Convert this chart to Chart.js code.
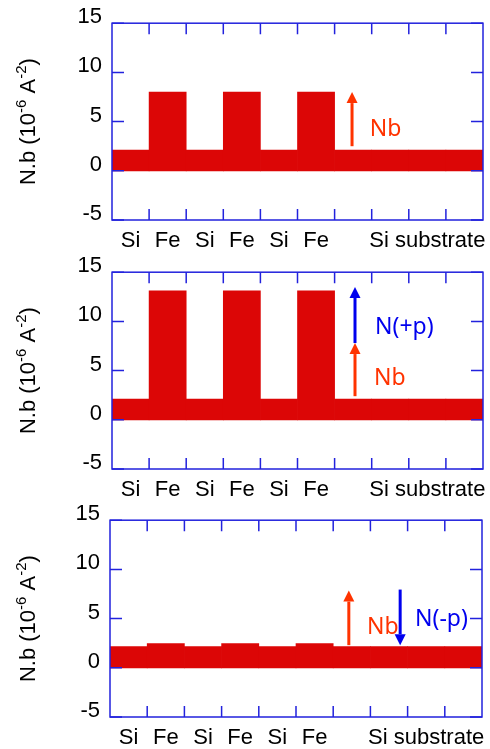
<!DOCTYPE html>
<html><head><meta charset="utf-8">
<script src="https://cdn.jsdelivr.net/npm/chart.js@4.4.1/dist/chart.umd.min.js"></script>
<style>
html,body{margin:0;padding:0;background:#fff;width:490px;height:749px;overflow:hidden;}
.p{position:absolute;left:0;width:490px;height:249px;}
canvas{display:block;}
</style>
</head><body>
<div class="p" style="top:0px"><canvas id="c0" width="490" height="249"></canvas></div>
<div class="p" style="top:249px"><canvas id="c1" width="490" height="249"></canvas></div>
<div class="p" style="top:497px"><canvas id="c2" width="490" height="252"></canvas></div>
<script>
// ---- data ----
const categories = ['Si','Fe','Si','Fe','Si','Fe','sub','sub','sub','sub'];
const tickLabels = ['Si','Fe','Si','Fe','Si','Fe','','','Si substrate',''];
const nbValues     = [2.1, 8.0, 2.1, 8.0, 2.1, 8.0, 2.1, 2.1, 2.1, 2.1];
const plusPValues  = [2.1, 13.1, 2.1, 13.1, 2.1, 13.1, 2.1, 2.1, 2.1, 2.1];
const minusPValues = [2.15, 2.45, 2.15, 2.45, 2.15, 2.45, 2.15, 2.15, 2.15, 2.15];
const yTicks = [-5, 0, 5, 10, 15];
const yTitleParts = [['N.b (10', false], ['-6', true], [' A', false], ['-2', true], [')', false]];

// annotation arrows: x in category index units, y in data units
const arrows1 = [{x: 5.97, from: 2.5, to: 8.0, color: '#ff3300'}];
const arrows2 = [{x: 6.05, from: 2.4, to: 7.8, color: '#ff3300'}, {x: 6.05, from: 7.8, to: 13.5, color: '#0000ee'}];
const arrows3 = [{x: 5.92, from: 2.3, to: 7.85, color: '#ff3300'}, {x: 7.3, from: 7.95, to: 2.3, color: '#0000ee'}];
const notes1 = [{x: 6.45, y: 4.2, text: 'Nb', color: '#ff3300'}];
const notes2 = [{x: 6.59, y: 9.4, text: 'N(+p)', color: '#0000ee'}, {x: 6.56, y: 4.25, text: 'Nb', color: '#ff3300'}];
const notes3 = [{x: 6.41, y: 4.05, text: 'Nb', color: '#ff3300'}, {x: 7.7, y: 4.95, text: 'N(-p)', color: '#0000ee'}];

const BLUE = '#2222dd';
const RED = '#dc0606';
const FONT = 'Liberation Sans, Arial, sans-serif';

const framePlugin = {
  id: 'frame',
  afterDatasetsDraw(chart, args, opts) {
    const ctx = chart.ctx, a = chart.chartArea;
    const xs = chart.scales.x, ys = chart.scales.y;
    ctx.save();
    ctx.strokeStyle = BLUE;
    ctx.lineWidth = 1.5;
    ctx.strokeRect(a.left, a.top, a.right - a.left, a.bottom - a.top);
    ctx.beginPath();
    yTicks.forEach(v => {
      const py = ys.getPixelForValue(v);
      ctx.moveTo(a.left, py); ctx.lineTo(a.left + 12, py);
      ctx.moveTo(a.right, py); ctx.lineTo(a.right - 12, py);
    });
    for (let i = 1; i < categories.length; i++) {
      const px = xs.getPixelForValue(i - 0.5);
      ctx.moveTo(px, a.top); ctx.lineTo(px, a.top + 11);
      ctx.moveTo(px, a.bottom); ctx.lineTo(px, a.bottom - 11);
    }
    ctx.stroke();

    // annotations
    (opts.arrows || []).forEach(ar => {
      const px = xs.getPixelForValue(ar.x);
      const y0 = ys.getPixelForValue(ar.from), y1 = ys.getPixelForValue(ar.to);
      const dir = y1 < y0 ? -1 : 1;
      const head = 11;
      ctx.strokeStyle = ar.color; ctx.fillStyle = ar.color; ctx.lineWidth = 3;
      ctx.beginPath(); ctx.moveTo(px, y0); ctx.lineTo(px, y1 - dir * head); ctx.stroke();
      ctx.beginPath(); ctx.moveTo(px, y1); ctx.lineTo(px - 5.5, y1 - dir * head); ctx.lineTo(px + 5.5, y1 - dir * head); ctx.closePath(); ctx.fill();
    });
    (opts.notes || []).forEach(n => {
      ctx.fillStyle = n.color;
      ctx.font = '23px "Noto Sans", "Open Sans", sans-serif';
      ctx.textAlign = 'left'; ctx.textBaseline = 'middle';
      ctx.fillText(n.text, xs.getPixelForValue(n.x), ys.getPixelForValue(n.y));
    });

    // y title with superscripts
    const cy = (a.top + a.bottom) / 2;
    ctx.fillStyle = '#000';
    ctx.translate(29, cy);
    ctx.rotate(-Math.PI / 2);
    const big = '22px ' + FONT, small = '15px ' + FONT;
    let total = 0;
    yTitleParts.forEach(([t, sup]) => { ctx.font = sup ? small : big; total += ctx.measureText(t).width; });
    let xx = -total / 2;
    ctx.textAlign = 'left'; ctx.textBaseline = 'middle';
    yTitleParts.forEach(([t, sup]) => {
      ctx.font = sup ? small : big;
      ctx.fillText(t, xx, sup ? -7 : 0);
      xx += ctx.measureText(t).width;
    });
    ctx.restore();
  }
};

function makeChart(id, values, arrows, notes, leftW, rightPad, xH) {
  return new Chart(document.getElementById(id), {
    type: 'bar',
    data: {
      labels: tickLabels,
      datasets: [{ data: values, backgroundColor: RED, borderWidth: 0, barPercentage: 1.0, categoryPercentage: 1.0 }]
    },
    options: {
      responsive: false, animation: false, devicePixelRatio: 1,
      layout: { padding: { left: 0, right: rightPad, top: 19, bottom: 0 } },
      plugins: { legend: { display: false }, tooltip: { enabled: false }, frame: { arrows, notes } },
      scales: {
        x: {
          offset: true,
          grid: { display: false, drawTicks: false },
          border: { display: false },
          ticks: { color: '#000', font: { family: FONT, size: 22 }, padding: 8, autoSkip: false, maxRotation: 0 },
          afterFit: s => { s.height = xH; }
        },
        y: {
          min: -5, max: 15,
          afterBuildTicks: s => { s.ticks = yTicks.map(v => ({ value: v })); },
          grid: { display: false, drawTicks: false },
          border: { display: false },
          ticks: { color: '#000', font: { family: FONT, size: 22 }, padding: 10, labelOffset: -6 },
          afterFit: s => { s.width = leftW; }
        }
      }
    },
    plugins: [framePlugin]
  });
}

makeChart('c0', nbValues, arrows1, notes1, 112, 7, 29);
makeChart('c1', plusPValues, arrows2, notes2, 112, 7, 29);
makeChart('c2', minusPValues, arrows3, notes3, 110, 8, 32);
</script>
</body></html>
